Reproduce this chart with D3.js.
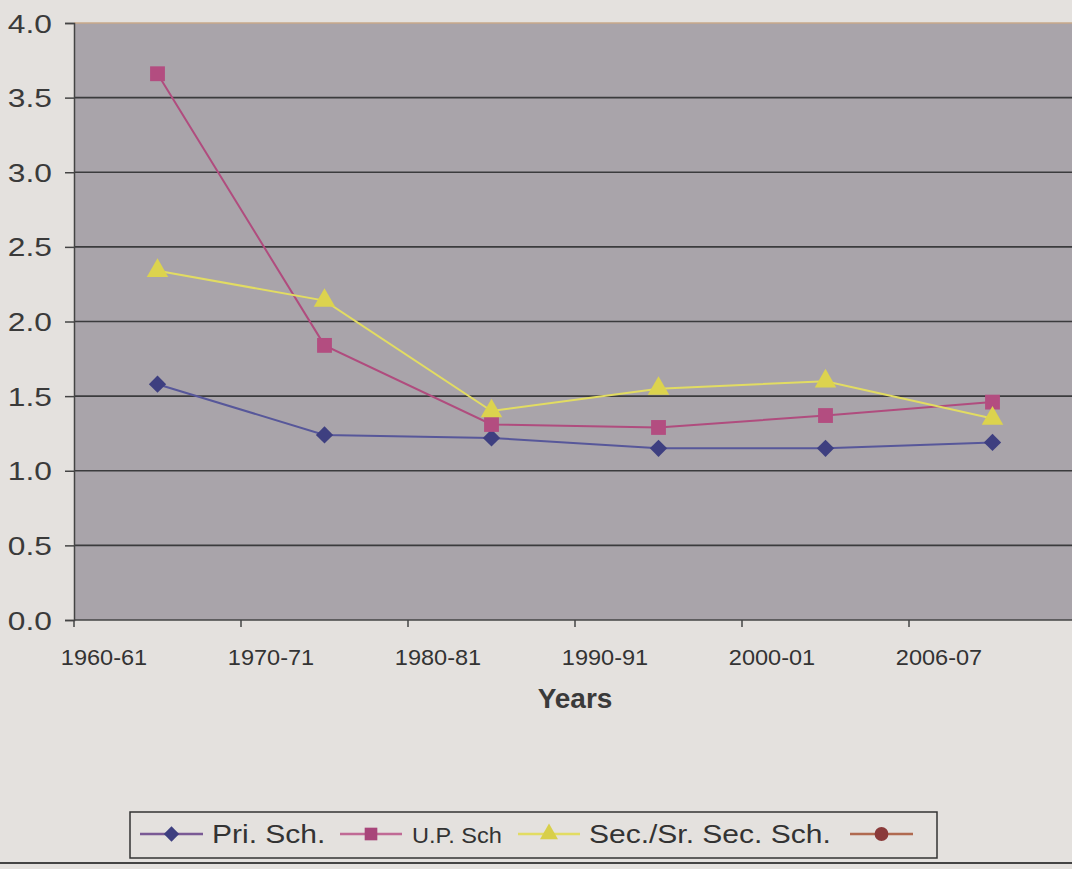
<!DOCTYPE html>
<html><head><meta charset="utf-8">
<script src="https://cdn.jsdelivr.net/npm/d3@7"></script>
<style>
html,body{margin:0;padding:0;background:#e4e1de;}
svg{display:block;font-family:"Liberation Sans",Arial,sans-serif;}
</style></head>
<body>
<svg id="c" width="1072" height="869"></svg>
<script>
const years = ["1960-61","1970-71","1980-81","1990-91","2000-01","2006-07"];
const priSch = [1.58,1.24,1.22,1.15,1.15,1.19];
const upSch = [3.66,1.84,1.31,1.29,1.37,1.46];
const secSch = [2.34,2.14,1.40,1.55,1.60,1.35];
const yTicks = [0,0.5,1,1.5,2,2.5,3,3.5,4];
const seriesNames = ["Pri. Sch.","U.P. Sch","Sec./Sr. Sec. Sch.",""];

const svg = d3.select("#c");
const m = {left:74, top:23, right:1076, bottom:620};
const x = d3.scaleBand().domain(years).range([m.left, m.right]);
const y = d3.scaleLinear().domain([0,4]).range([m.bottom, m.top]);

// plot area
svg.append("rect").attr("x",m.left).attr("y",m.top).attr("width",m.right-m.left).attr("height",m.bottom-m.top).attr("fill","#a9a4aa");

// gridlines
svg.append("g").selectAll("line").data(yTicks.filter(d=>d>0)).join("line")
  .attr("x1",m.left).attr("x2",1072).attr("y1",d=>y(d)).attr("y2",d=>y(d))
  .attr("stroke",d=>d===4?"#c9a98a":"#3b3b3d").attr("stroke-width",1.6);

// y axis
const ya = svg.append("g").attr("transform",`translate(${m.left},0)`)
  .call(d3.axisLeft(y).tickValues(yTicks).tickFormat(d3.format(".1f")).tickSize(9).tickPadding(22));
ya.select(".domain").attr("stroke","#444").attr("stroke-width",1.5);
ya.selectAll(".tick line").attr("stroke","#444").attr("stroke-width",1.5);
ya.selectAll(".tick text").attr("font-size",25).attr("fill","#3a3a3a")
  .attr("font-family","Liberation Sans, Arial, sans-serif")
  .attr("x",null).attr("dy",null)
  .attr("transform","translate(-22,9) scale(1.27,1)");

// x axis
const xa = svg.append("g").attr("transform",`translate(0,${m.bottom})`);
xa.append("line").attr("x1",m.left).attr("x2",1072).attr("stroke","#444").attr("stroke-width",1.5);
xa.selectAll(".tk").data(years).join("line").attr("class","tk")
  .attr("x1",d=>x(d)).attr("x2",d=>x(d)).attr("y1",0).attr("y2",7).attr("stroke","#444").attr("stroke-width",1.5);
xa.selectAll("text").data(years).join("text")
  .attr("transform",d=>`translate(${x(d)+30},45) scale(1.07,1)`).attr("text-anchor","middle")
  .attr("font-size",22).attr("fill","#333").text(d=>d);

svg.append("text").attr("x",575).attr("y",708).attr("text-anchor","middle")
  .attr("font-size",28).attr("font-weight","bold").attr("fill","#3a3a3a").text("Years");

const cx = d=>x(d)+x.bandwidth()/2;
const series = [
  {vals:priSch, line:"#57579a", fill:"#3e3f80", shape:d3.symbolDiamond2, size:190},
  {vals:upSch, line:"#b04c7e", fill:"#b34d80", shape:d3.symbolSquare, size:220},
  {vals:secSch, line:"#e2dc62", fill:"#dcd34e", shape:d3.symbolTriangle, size:200}
];
const line = d3.line().x((d,i)=>cx(years[i])).y(d=>y(d));
series.forEach(s=>{
  svg.append("path").datum(s.vals).attr("d",line).attr("fill","none").attr("stroke",s.line).attr("stroke-width",2);
  svg.append("g").selectAll("path").data(s.vals).join("path")
    .attr("transform",(d,i)=>`translate(${cx(years[i])},${y(d)})`)
    .attr("d",d3.symbol().type(s.shape).size(s.size)).attr("fill",s.fill);
});

// legend
const lg = svg.append("g");
lg.append("rect").attr("x",130).attr("y",812).attr("width",807).attr("height",46).attr("fill","none").attr("stroke","#333").attr("stroke-width",1.5);
const legItems = [
  {x:140, w:63, line:"#7a5a95", fill:"#3e3f80", shape:d3.symbolDiamond2, size:150, tx:212, fs:25, sx:1.2},
  {x:340, w:62, line:"#c06a95", fill:"#a8457a", shape:d3.symbolSquare, size:160, tx:412, fs:22, sx:1.07},
  {x:518, w:62, line:"#e2dc62", fill:"#d8cf4a", shape:d3.symbolTriangle, size:140, tx:589, fs:25, sx:1.2},
  {x:850, w:63, line:"#b06a50", fill:"#8a3a3a", shape:d3.symbolCircle, size:150, tx:0, fs:25, sx:1}
];
legItems.forEach((it,i)=>{
  lg.append("line").attr("x1",it.x).attr("x2",it.x+it.w).attr("y1",834).attr("y2",834).attr("stroke",it.line).attr("stroke-width",2.5);
  lg.append("path").attr("transform",`translate(${it.x+it.w/2},834)`).attr("d",d3.symbol().type(it.shape).size(it.size)).attr("fill",it.fill);
  if(seriesNames[i]) lg.append("text").attr("transform",`translate(${it.tx},843) scale(${it.sx},1)`)
    .attr("font-size",it.fs).attr("fill","#333").text(seriesNames[i]);
});
svg.append("line").attr("x1",0).attr("x2",1072).attr("y1",863).attr("y2",863).attr("stroke","#444").attr("stroke-width",2);
</script>
</body></html>
